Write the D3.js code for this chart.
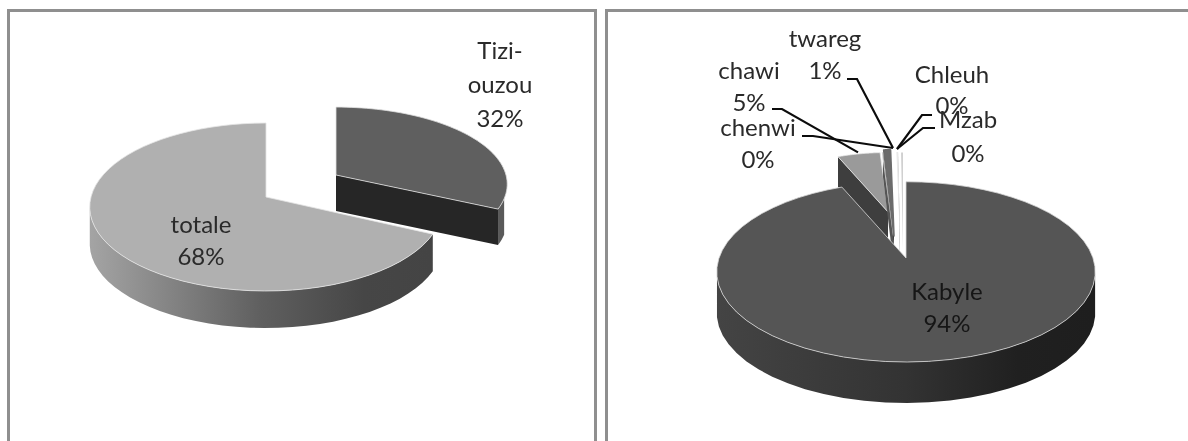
<!DOCTYPE html>
<html><head><meta charset="utf-8">
<script src="https://cdn.jsdelivr.net/npm/d3@7"></script>
<style>html,body{margin:0;padding:0;background:#fff;overflow:hidden}svg{display:block;filter:blur(.45px)}</style>
</head><body><svg id="c" width="1188" height="441"></svg>
<script>
// --- data
const leftCategories = ["Tizi-\nouzou", "totale"];
const leftValues = [32, 68];
const rightCategories = ["Kabyle", "chawi", "chenwi", "twareg", "Chleuh", "Mzab"];
const rightValues = [93.6, 5.4, 0.1, 0.6, 0.15, 0.15];

// --- layout
const svg = d3.select("#c");
const FONT = "Lato, 'Open Sans', sans-serif";
const frames = [[8.5,10.5,587,440],[606.5,10.5,600,440]];
frames.forEach(([x,y,w,h])=>svg.append("rect").attr("x",x).attr("y",y).attr("width",w).attr("height",h)
  .attr("fill","#fff").attr("stroke","#8f8f8f").attr("stroke-width",3));

const defs = svg.append("defs");
function grad(id, stops, x1, x2){
  const g = defs.append("linearGradient").attr("id",id).attr("gradientUnits","userSpaceOnUse")
    .attr("x1",x1).attr("x2",x2).attr("y1",0).attr("y2",0);
  stops.forEach(([o,c])=>g.append("stop").attr("offset",o).attr("stop-color",c));
}
grad("wallL",[[0,"#a4a4a4"],[.5,"#5f5f5f"],[.8,"#464646"],[1,"#444"]],90,432);
grad("wallR",[[0,"#444"],[.5,"#333"],[.8,"#202020"],[1,"#1e1e1e"]],718,1093);

// perspective projection of a pie in the horizontal plane
function projector(ax, ay, rx, ry, a, k=1){
  return (theta, r=1)=>{
    const u = Math.sin(theta)*r, v = -Math.cos(theta)*r, d = 1 - a*v;
    return [ax + k*rx*u/d, ay + k*ry*v/d];
  };
}
const sample = (t0,t1)=>d3.range(0,61).map(i=>t0+(t1-t0)*i/60);
const line = d3.line();
const pie = d3.pie().sort(null).value(d=>d);

function slice(g, proj, s, o){
  const depth = o.depth;
  const rim = sample(s.startAngle, s.endAngle).map(t=>proj(t));
  const apex = proj(0,0);
  const down = p=>[p[0],p[1]+depth];
  (o.cuts||[]).forEach(c=>{
    const t = c.end ? s.endAngle : s.startAngle, p = proj(t);
    g.append("path").attr("d",line([apex,p,down(p),down(apex)])+"Z")
      .attr("fill",c.fill).attr("stroke",c.stroke||"none").attr("stroke-width",.8);
  });
  const front = sample(s.startAngle, s.endAngle).filter(t=>{
    const c = -Math.cos(t); return c > (o.wallFrom ?? .1);
  }).map(t=>proj(t));
  if(front.length>1 && o.wall)
    g.append("path").attr("d",line(front.concat(front.slice().reverse().map(down)))+"Z").attr("fill",o.wall);
  g.append("path").attr("d",line([apex,...rim])+"Z").attr("fill",o.top)
    .attr("stroke",o.edge||"none").attr("stroke-width",o.edgeW||.8).attr("stroke-linejoin","round");
}

// --- left pie
const leftArcs = pie(leftValues);
const gl = svg.append("g");
const pTizi = projector(336,175,170,76,.119);
const pTot  = projector(266,197,175,82.8,.119);
slice(gl,pTot,leftArcs[1],{depth:37,top:"#b0b0b0",wall:"url(#wallL)",wallFrom:.1,edge:"#e4e4e4",
  cuts:[{end:true,fill:"#c4c4c4"}]});
slice(gl,pTizi,leftArcs[0],{depth:36,top:"#5f5f5f",wall:"#5a5a5a",wallFrom:.28,edge:"#e0e0e0",
  cuts:[{end:false,fill:"#b5b5b5"},{end:true,fill:"#262626"}]});

// --- right pie (small exploded slices are drawn first, behind Kabyle)
const rightArcs = pie(rightValues);
const gr = svg.append("g");
const rightStyle = [
  {ax:906,ay:258,k:1,   depth:41,top:"#555",wall:"url(#wallR)",edge:"#d8d8d8",wallFrom:.1},
  {ax:888,ay:212,k:.78, depth:30,top:"#9a9a9a",edge:"#e8e8e8",cuts:[{end:false,fill:"#3e3e3e"}]},
  {ax:893,ay:236,k:1.1, depth:24,top:"#cfcfcf",cuts:[{end:true,fill:"#555"}]},
  {ax:894,ay:236,k:1.13,depth:24,top:"#6b6b6b",edge:"#6b6b6b",edgeW:1.6,cuts:[{end:true,fill:"#2e2e2e"}]},
  {ax:900,ay:242,k:1.18,depth:18,top:"#e8e8e8",cuts:[{end:true,fill:"#888"}]},
  {ax:903,ay:250,k:1.28,depth:10,top:"#d0d0d0",cuts:[{end:true,fill:"#aaa"}]}
];
const rightProj = rightStyle.map(o=>projector(o.ax,o.ay,187,88,.154,o.k));
[1,2,3,4,5,0].forEach(i=>slice(gr,rightProj[i],rightArcs[i],rightStyle[i]));

// --- leader lines
const leaders = [
  {i:1, from:[772,109], elbow:[782,109], r:.8},
  {i:2, from:[802,136], elbow:[813,136]},
  {i:3, from:[847,79],  elbow:[857,79]},
  {i:4, from:[932,115], elbow:[922,115], hub:[897,149]},
  {i:5, from:[935,128], elbow:[923,128], hub:[897,149]}
];
leaders.forEach(l=>{
  const th=(rightArcs[l.i].startAngle+rightArcs[l.i].endAngle)/2;
  const end = l.r ? rightProj[l.i](th,1.03) : (l.hub||[893,148]);
  gr.append("path").attr("d",line([l.from,l.elbow,end])).attr("fill","none")
    .attr("stroke","#0c0c0c").attr("stroke-width",2.2);
});

// --- labels
const pct = v=>Math.round(v)+"%";
function label(cx, baseline, lines, size, dy, fill){
  const t = svg.append("text").attr("text-anchor","middle").attr("font-family",FONT)
    .attr("font-size",size).attr("fill",fill||"#2a2a2a");
  lines.forEach((s,i)=>t.append("tspan").attr("x",cx).attr("y",baseline+i*dy).text(s));
}
const leftPos = [[500,59],[201,233]];
leftCategories.forEach((c,i)=>label(leftPos[i][0],leftPos[i][1],[...c.split("\n"),pct(leftValues[i])],24,i?32:34));
const rightPos = [[947,300],[749,79],[758,136],[825,47],[952,83],[968,128]];
const rightDy = [32,32,32,32,31,34];
rightCategories.forEach((c,i)=>label(rightPos[i][0],rightPos[i][1],[c,pct(rightValues[i])],24,rightDy[i],i?null:"#161616"));
</script></body></html>
